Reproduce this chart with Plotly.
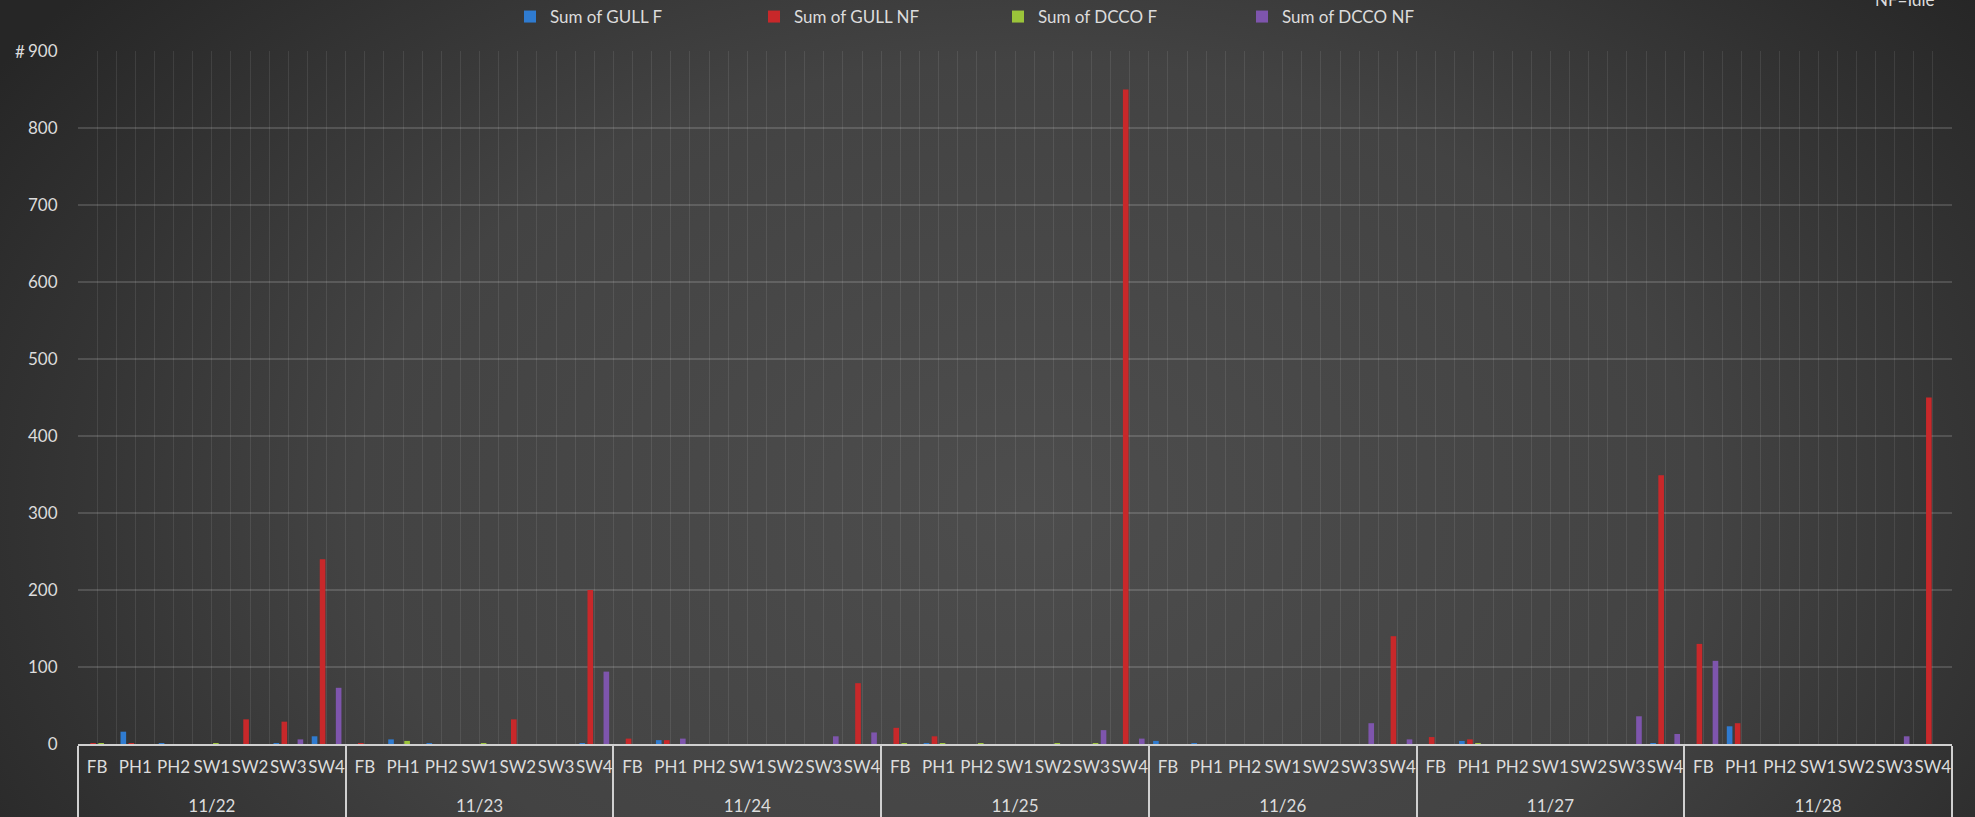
import base64
import plotly.graph_objects as go

# ---- data ----
dates = ["11/22", "11/23", "11/24", "11/25", "11/26", "11/27", "11/28"]
sites = ["FB", "PH1", "PH2", "SW1", "SW2", "SW3", "SW4"]

gull_f = [
    0, 16, 1, 0, 0, 1, 10,
    0, 6, 1, 0, 0, 0, 1,
    0, 5, 0, 0, 0, 0, 0,
    0, 1, 0, 0, 0, 0, 0,
    4, 1, 0, 0, 0, 0, 0,
    0, 4, 0, 0, 0, 0, 1,
    0, 23, 0, 0, 0, 0, 0,
]
gull_nf = [
    1, 1, 0, 0, 32, 29, 240,
    1, 0, 0, 0, 32, 0, 200,
    7, 5, 0, 0, 0, 0, 79,
    21, 10, 0, 0, 0, 0, 850,
    0, 0, 0, 0, 0, 0, 140,
    9, 6, 0, 0, 0, 0, 349,
    130, 27, 0, 0, 0, 0, 450,
]
dcco_f = [
    1, 0, 0, 1, 0, 0, 0,
    0, 4, 0, 1, 0, 0, 0,
    0, 0, 0, 0, 0, 0, 0,
    1, 1, 1, 0, 1, 1, 0,
    0, 0, 0, 0, 0, 0, 0,
    0, 1, 0, 0, 0, 0, 0,
    0, 0, 0, 0, 0, 0, 0,
]
dcco_nf = [
    0, 0, 0, 0, 0, 6, 73,
    0, 0, 0, 0, 0, 0, 94,
    0, 7, 0, 0, 0, 10, 15,
    0, 0, 0, 0, 0, 18, 7,
    0, 0, 0, 0, 0, 27, 6,
    0, 0, 0, 0, 0, 36, 13,
    108, 0, 0, 0, 0, 10, 0,
]

series_names = ["Sum of GULL F", "Sum of GULL NF", "Sum of DCCO F", "Sum of DCCO NF"]
series_colors = ["#2f7bd0", "#c8282a", "#9bc43a", "#7e55ad"]
y_ticks = [0, 100, 200, 300, 400, 500, 600, 700, 800, 900]

# ---- layout constants ----
W, H = 1975, 817
ML, MR, MT, MB = 78, 23, 51, 73
PW, PH = W - ML - MR, H - MT - MB
FONT = "Lato"
TXT = "#dcdcdc"

# date group labels pushed one line lower, like the reference
x_outer = ["<br>" + d for d in dates for _ in sites]
x_inner = [s for _ in dates for s in sites]
n_cat = len(dates) * len(sites)

fig = go.Figure()
for name, vals, col in zip(series_names, [gull_f, gull_nf, dcco_f, dcco_nf], series_colors):
    fig.add_trace(go.Bar(
        x=[x_outer, x_inner], y=vals, name=name,
        marker=dict(color=col, line=dict(width=0)),
    ))

# background gradient as an svg image
svg = (
    '<svg xmlns="http://www.w3.org/2000/svg" width="1975" height="817" '
    'preserveAspectRatio="none" viewBox="0 0 1975 817">'
    '<defs><radialGradient id="g" cx="0.52" cy="0.62" r="0.62" '
    'gradientTransform="translate(0.52,0.62) scale(1,1.6) translate(-0.52,-0.62)">'
    '<stop offset="0" stop-color="#4d4d4d"/>'
    '<stop offset="0.55" stop-color="#434343"/>'
    '<stop offset="1" stop-color="#262626"/>'
    '</radialGradient></defs>'
    '<rect width="1975" height="817" fill="url(#g)"/></svg>'
)
src = "data:image/svg+xml;base64," + base64.b64encode(svg.encode()).decode()
fig.add_layout_image(dict(
    source=src, xref="paper", yref="paper",
    x=-ML / PW, y=1 + MT / PH, sizex=W / PW, sizey=H / PH,
    xanchor="left", yanchor="top", sizing="stretch", layer="below",
))

annotations = [
    dict(text="#", xref="paper", yref="paper", x=(20 - ML) / PW, y=1,
         xanchor="center", yanchor="middle", showarrow=False,
         font=dict(family=FONT, size=17, color=TXT)),
    dict(text="NF=Idle", xref="paper", yref="paper", x=(1904 - ML) / PW,
         y=1 + (MT + 1) / PH, xanchor="center", yanchor="middle", showarrow=False,
         font=dict(family=FONT, size=17, color=TXT)),
]

fig.update_layout(
    width=W, height=H,
    margin=dict(l=ML, r=MR, t=MT, b=MB, autoexpand=False),
    paper_bgcolor="#333333",
    plot_bgcolor="rgba(0,0,0,0)",
    font=dict(family=FONT, size=17, color=TXT),
    barmode="group", bargap=0.16, bargroupgap=0.3,
    showlegend=True,
    legend=dict(
        orientation="h", x=(510 - ML) / PW, y=1 + (MT - 17) / PH,
        xanchor="left", yanchor="middle",
        entrywidth=199, entrywidthmode="pixels", itemwidth=30,
        font=dict(family=FONT, size=17, color=TXT),
        bgcolor="rgba(0,0,0,0)",
    ),
    xaxis=dict(
        type="multicategory",
        showgrid=True, gridcolor="rgba(255,255,255,0.09)", gridwidth=1,
        showline=True, linecolor="#d0d0d0", linewidth=2,
        showdividers=True, dividercolor="#d0d0d0", dividerwidth=2,
        ticks="", tickangle=0, ticklabelstandoff=7,
        tickfont=dict(family=FONT, size=17, color=TXT),
        automargin=False,
    ),
    xaxis2=dict(
        overlaying="x", anchor="y", range=[-0.5, n_cat - 0.5],
        showgrid=True, gridcolor="rgba(255,255,255,0.09)", gridwidth=1,
        tick0=0, dtick=1, showticklabels=False, showline=False, zeroline=False,
        fixedrange=True,
    ),
    yaxis=dict(
        range=[0, 900], tickvals=y_ticks,
        showgrid=True, gridcolor="rgba(255,255,255,0.15)", gridwidth=1.5,
        zeroline=False, showline=False,
        ticks="outside", ticklen=16, tickcolor="rgba(0,0,0,0)",
        tickfont=dict(family=FONT, size=17, color=TXT),
        automargin=False,
    ),
    annotations=annotations,
)

# dummy trace to anchor the overlay axis of center gridlines
fig.add_trace(go.Scatter(x=[0, n_cat - 1], y=[None, None], xaxis="x2", yaxis="y",
                         mode="markers", showlegend=False, hoverinfo="skip"))

fig.write_html(
    "out.html",
    config={"displayModeBar": False},
    post_script="document.body.style.margin='0';document.body.style.overflow='hidden';",
)
